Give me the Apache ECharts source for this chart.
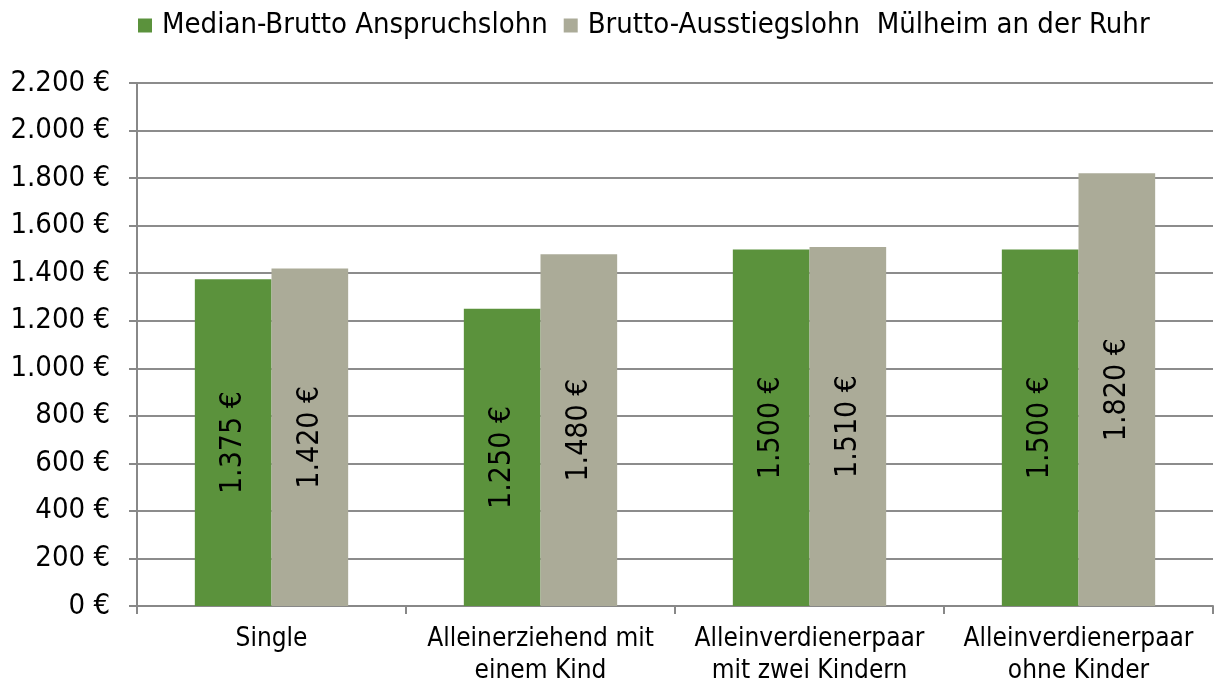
<!DOCTYPE html>
<html>
<head>
<meta charset="utf-8">
<script src="https://cdn.jsdelivr.net/npm/echarts@6/dist/echarts.min.js"></script>
<style>
  html, body { margin: 0; padding: 0; background: #fff; }
  #main { width: 1214px; height: 687px; }
</style>
</head>
<body>
<div id="main"></div>
<script>
// Kategorien und Werte
const categories = [
  "Single",
  "Alleinerziehend mit\neinem Kind",
  "Alleinverdienerpaar\nmit zwei Kindern",
  "Alleinverdienerpaar\nohne Kinder"
];
const medianAnspruch = [1375, 1250, 1500, 1500];
const ausstiegslohn = [1420, 1480, 1510, 1820];
const seriesNames = ["Median-Brutto Anspruchslohn", "Brutto-Ausstiegslohn  Mülheim an der Ruhr"];

const font = "Tahoma, 'DejaVu Sans Condensed', 'DejaVu Sans', sans-serif";
const fmt = v => v.toLocaleString("de-DE") + " €";

const chart = echarts.init(document.getElementById("main"));
chart.setOption({
  animation: false,
  textStyle: { fontFamily: font },
  legend: {
    top: 6,
    left: 133,
    itemWidth: 14,
    itemHeight: 14,
    itemGap: 16,
    icon: "rect",
    textStyle: { fontSize: 29, color: "#000", fontFamily: font, padding: [0, 0, 0, 5] },
    data: seriesNames
  },
  grid: { left: 137, right: 1, top: 83, bottom: 80 },
  xAxis: {
    type: "category",
    data: categories,
    axisLine: { lineStyle: { color: "#888", width: 2 } },
    axisTick: { show: true, interval: 0, length: 8, lineStyle: { color: "#888", width: 2 } },
    axisLabel: { interval: 0, fontSize: 26, color: "#000", margin: 17, lineHeight: 32, fontFamily: font }
  },
  yAxis: {
    type: "value",
    min: 0,
    max: 2200,
    interval: 200,
    axisLine: { show: true, lineStyle: { color: "#888", width: 2 } },
    axisTick: { show: true, length: 8, lineStyle: { color: "#888", width: 2 } },
    splitLine: { lineStyle: { color: "#8c8c8c", width: 2 } },
    axisLabel: { fontSize: 29, color: "#000", margin: 27, formatter: fmt, fontFamily: font }
  },
  series: [
    {
      name: seriesNames[0],
      type: "bar",
      data: medianAnspruch,
      barGap: "0%",
      barCategoryGap: "43%",
      itemStyle: { color: "#5b923c" },
      label: {
        show: true, position: "inside", rotate: 90,
        fontSize: 30, color: "#000", fontFamily: font,
        formatter: p => fmt(p.value)
      }
    },
    {
      name: seriesNames[1],
      type: "bar",
      data: ausstiegslohn,
      itemStyle: { color: "#abab98" },
      label: {
        show: true, position: "inside", rotate: 90,
        fontSize: 30, color: "#000", fontFamily: font,
        formatter: p => fmt(p.value)
      }
    }
  ]
});
</script>
</body>
</html>
